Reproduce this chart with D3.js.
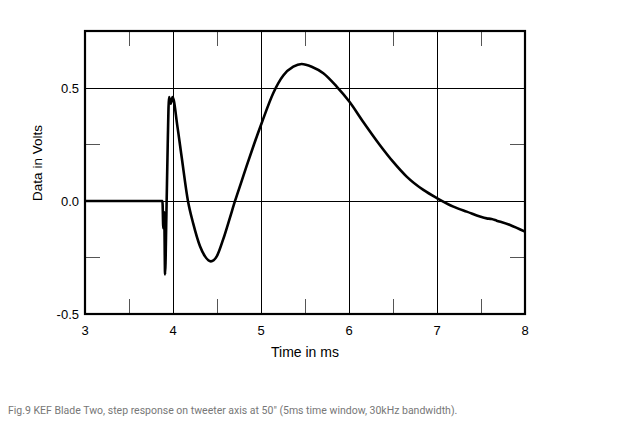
<!DOCTYPE html>
<html><head><meta charset="utf-8">
<script src="https://cdn.jsdelivr.net/npm/d3@7"></script>
<style>body{margin:0;background:#fff;} svg{display:block;}</style>
</head><body>
<svg id="c" width="622" height="441"></svg>
<script>
const timeMs = [3.0,3.5,3.88,3.89,3.90,3.91,3.925,3.94,3.955,3.975,3.995,4.05,4.10,4.17,4.23,4.307,4.364,4.43,4.497,4.57,4.65,4.705,4.78,4.837,4.92,5.008,5.14,5.253,5.367,5.462,5.576,5.708,5.86,6.003,6.16,6.35,6.5,6.655,6.845,7.003,7.186,7.337,7.565,7.62,7.678,7.83,8.0];
const volts  = [0,0,0,-0.12,-0.05,-0.325,-0.06,0.25,0.46,0.43,0.46,0.33,0.19,0.0,-0.10,-0.20,-0.245,-0.267,-0.245,-0.17,-0.07,0.0,0.088,0.155,0.25,0.345,0.478,0.555,0.594,0.606,0.594,0.565,0.506,0.44,0.351,0.248,0.174,0.108,0.049,0.012,-0.025,-0.047,-0.077,-0.08,-0.087,-0.106,-0.136];
const xTicks = [3,4,5,6,7,8];
const yTicks = [-0.5,0.0,0.5];
const yTickLabels = ["-0.5","0.0","0.5"];
const xMinor = [3.5,4.5,5.5,6.5,7.5];
const yMinor = [-0.25,0.25];
const xTitle = "Time in ms";
const yTitle = "Data in Volts";
const caption = "Fig.9 KEF Blade Two, step response on tweeter axis at 50\" (5ms time window, 30kHz bandwidth).";

const L=85,R=525,T=31,B=314;
const x=d3.scaleLinear().domain([3,8]).range([L,R]);
const y=d3.scaleLinear().domain([-0.5,0.752]).range([B,T]);
const svg=d3.select("#c");
const font="'Liberation Sans', Arial, sans-serif";

// gridlines
svg.append("g").selectAll("line").data(xTicks.slice(1,-1)).join("line")
  .attr("x1",d=>x(d)+0.5).attr("x2",d=>x(d)+0.5).attr("y1",T).attr("y2",B)
  .attr("stroke","#000").attr("stroke-width",1);
svg.append("g").selectAll("line").data([0,0.5]).join("line")
  .attr("y1",d=>Math.round(y(d))+0.5).attr("y2",d=>Math.round(y(d))+0.5).attr("x1",L).attr("x2",R)
  .attr("stroke","#000").attr("stroke-width",1);
// minor ticks
const tl=15;
const mt=svg.append("g").attr("stroke","#555").attr("stroke-width",1);
xMinor.forEach(d=>{
  mt.append("line").attr("x1",x(d)+0.5).attr("x2",x(d)+0.5).attr("y1",T).attr("y2",T+tl);
  mt.append("line").attr("x1",x(d)+0.5).attr("x2",x(d)+0.5).attr("y1",B-tl).attr("y2",B);
});
yMinor.forEach(d=>{
  const yy=Math.round(y(d))+0.5;
  mt.append("line").attr("x1",L).attr("x2",L+tl).attr("y1",yy).attr("y2",yy);
  mt.append("line").attr("x1",R-tl).attr("x2",R).attr("y1",yy).attr("y2",yy);
});
// frame
svg.append("rect").attr("x",L).attr("y",T).attr("width",R-L).attr("height",B-T)
  .attr("fill","none").attr("stroke","#000").attr("stroke-width",2.2);

// axes labels
svg.append("g").selectAll("text").data(xTicks).join("text")
  .attr("x",d=>x(d)).attr("y",B+21).attr("text-anchor","middle")
  .attr("font-family",font).attr("font-size",13).text(d=>d);
svg.append("g").selectAll("text").data(yTicks).join("text")
  .attr("x",L-6).attr("y",d=>y(d)+5).attr("text-anchor","end")
  .attr("font-family",font).attr("font-size",13).text((d,i)=>yTickLabels[i]);
svg.append("text").attr("x",305).attr("y",357).attr("text-anchor","middle")
  .attr("font-family",font).attr("font-size",14).text(xTitle);
svg.append("text").attr("transform","translate(42,163) rotate(-90)").attr("text-anchor","middle")
  .attr("font-family",font).attr("font-size",13.5).text(yTitle);

// curve
const line=d3.line().x((d,i)=>x(timeMs[i])).y(d=>y(d)).curve(d3.curveMonotoneX);
svg.append("path").datum(volts).attr("d",line).attr("fill","none")
  .attr("stroke","#000").attr("stroke-width",2.6).attr("stroke-linejoin","round");

svg.append("text").attr("x",8).attr("y",414).attr("font-family","Roboto, sans-serif")
  .attr("font-size",10.5).attr("fill","#777").text(caption);
</script>
</body></html>
